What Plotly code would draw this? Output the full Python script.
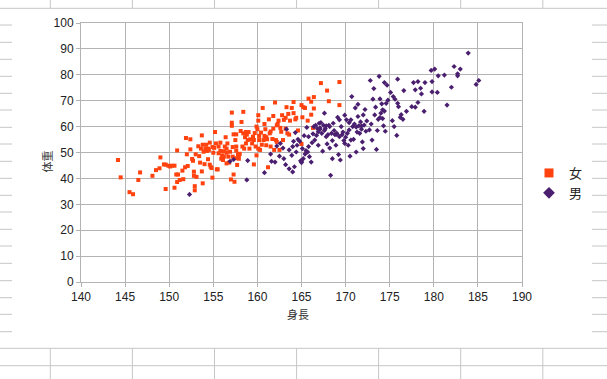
import plotly.graph_objects as go

# ---------------- data ----------------
female_height = [
    144.2, 144.5, 145.5, 145.9, 146.5, 146.7, 148.1, 148.5, 149.0, 148.9,
    149.4, 149.6, 149.9, 150.1, 150.3, 150.6, 149.6, 150.6, 150.9, 150.8,
    151.0, 150.9, 151.2, 151.5, 151.6, 151.8, 151.9, 152.0, 152.4, 152.4,
    152.7, 152.8, 152.8, 153.0, 152.9, 152.9, 153.1, 153.3, 153.4, 153.5,
    153.6, 153.7, 153.7, 153.8, 153.8, 153.9, 154.0, 154.1, 154.3, 154.4,
    154.4, 154.5, 154.6, 154.6, 154.7, 154.8, 154.9, 154.9, 155.0, 155.2,
    155.3, 155.4, 155.5, 155.6, 155.6, 155.8, 155.8, 155.9, 156.0, 156.1,
    156.2, 156.3, 156.4, 156.5, 156.5, 156.5, 156.6, 156.7, 156.8, 156.9,
    157.0, 157.1, 157.1, 157.1, 157.2, 157.2, 157.3, 157.3, 157.4, 157.5,
    157.6, 157.6, 157.6, 157.7, 157.8, 157.9, 157.9, 158.1, 158.2, 158.3,
    158.4, 158.4, 158.5, 158.6, 158.7, 158.7, 158.8, 158.9, 159.0, 159.2,
    159.4, 159.5, 159.6, 159.6, 159.7, 159.8, 159.9, 159.9, 160.0, 160.1,
    160.1, 160.1, 160.2, 160.2, 160.3, 160.4, 160.5, 160.6, 160.7, 160.8,
    160.8, 160.9, 161.0, 161.1, 161.2, 161.3, 161.4, 161.5, 161.5, 161.7,
    161.8, 161.8, 161.9, 162.0, 162.1, 162.2, 162.2, 162.3, 162.4, 162.5,
    162.6, 162.8, 162.9, 163.0, 163.2, 163.2, 163.3, 163.4, 163.5, 163.6,
    163.7, 163.9, 164.1, 164.1, 164.3, 164.4, 164.6, 165.0, 165.0, 165.1,
    165.2, 165.4, 165.7, 165.8, 166.1, 166.1, 166.3, 166.4, 166.4, 167.2,
    167.9, 168.1, 169.3, 169.3, 152.6, 152.1, 155.1, 156.2, 158.0, 161.0,
    154.2, 157.5, 159.1, 160.9, 162.7,
]
female_weight = [
    47.1, 40.4, 34.7, 33.9, 39.4, 42.3, 41.0, 43.2, 48.1, 43.9,
    45.4, 45.3, 44.9, 44.6, 44.9, 44.9, 35.9, 36.4, 50.8, 41.5,
    41.5, 38.6, 39.4, 43.0, 39.7, 44.3, 55.6, 49.3, 55.1, 51.2,
    46.8, 42.6, 41.0, 49.3, 37.0, 35.4, 40.6, 52.4, 48.6, 46.1,
    51.5, 42.7, 56.6, 53.0, 38.1, 50.3, 45.5, 51.5, 50.6, 51.5,
    47.4, 51.0, 53.8, 45.3, 44.5, 44.0, 40.3, 52.1, 49.9, 57.9,
    53.5, 43.5, 43.5, 52.3, 49.7, 50.6, 53.8, 47.6, 48.9, 47.1,
    48.4, 52.3, 55.9, 51.5, 45.8, 49.9, 53.5, 48.4, 46.1, 50.3,
    39.6, 65.4, 61.5, 60.3, 48.4, 52.1, 41.5, 57.0, 38.7, 54.8,
    50.7, 57.0, 52.3, 45.2, 49.3, 47.6, 48.9, 58.3, 61.8, 52.3,
    65.7, 57.4, 51.5, 55.9, 57.9, 53.5, 56.9, 54.8, 57.9, 55.1,
    53.5, 56.1, 45.4, 54.8, 57.5, 52.3, 60.0, 48.9, 59.0, 51.5,
    64.4, 62.3, 56.4, 54.8, 51.0, 57.7, 53.0, 67.2, 54.8, 61.0,
    56.4, 59.0, 55.9, 55.1, 44.3, 62.8, 57.4, 52.3, 58.1, 55.2,
    59.2, 64.1, 51.0, 69.3, 54.8, 60.5, 54.1, 61.0, 62.3, 51.0,
    59.5, 64.4, 54.8, 62.6, 59.2, 63.4, 67.5, 57.4, 64.9, 56.9,
    62.3, 67.2, 65.2, 69.5, 62.8, 63.4, 58.5, 53.3, 68.3, 63.6,
    67.5, 67.2, 62.3, 70.8, 64.6, 69.6, 59.5, 71.4, 67.0, 76.8,
    73.9, 69.8, 77.2, 68.3, 47.5, 44.8, 51.8, 50.5, 49.5, 52.8,
    53.0, 47.8, 51.5, 55.5, 58.0,
]

male_height = [
    152.3, 158.8, 160.8, 161.5, 161.6, 162.0, 162.2, 162.5, 162.6, 162.9,
    163.0, 163.2, 163.3, 163.6, 163.6, 163.9, 164.0, 164.0, 164.1, 164.2,
    164.3, 164.4, 164.5, 164.6, 164.8, 164.9, 165.0, 165.0, 165.1, 165.2,
    165.4, 165.5, 165.6, 165.7, 165.8, 165.8, 165.9, 166.1, 166.2, 166.3,
    166.4, 166.5, 166.6, 166.7, 166.8, 166.9, 167.0, 167.1, 167.1, 167.2,
    167.3, 167.4, 167.5, 167.6, 167.7, 167.8, 167.8, 167.9, 168.0, 168.1,
    168.2, 168.3, 168.4, 168.5, 168.5, 168.6, 168.7, 168.8, 168.9, 169.0,
    169.1, 169.2, 169.3, 169.3, 169.4, 169.5, 169.6, 169.7, 169.8, 169.9,
    169.9, 170.0, 170.1, 170.2, 170.3, 170.4, 170.5, 170.6, 170.6, 170.7,
    170.8, 170.9, 171.0, 171.1, 171.2, 171.3, 171.4, 171.4, 171.5, 171.6,
    171.7, 171.8, 171.9, 172.0, 172.0, 172.1, 172.2, 172.3, 172.4, 172.7,
    172.8, 172.9, 173.0, 173.1, 173.2, 173.3, 173.4, 173.5, 173.6, 173.7,
    173.8, 173.9, 174.0, 174.1, 174.2, 174.2, 174.3, 174.4, 174.5, 174.6,
    174.7, 174.8, 175.1, 175.3, 175.4, 175.5, 175.6, 175.8, 175.9, 175.9,
    176.0, 176.2, 176.3, 176.5, 176.6, 176.9, 177.5, 177.7, 177.9, 177.9,
    178.2, 178.2, 178.5, 178.6, 178.9, 179.0, 179.7, 179.8, 179.8, 180.1,
    180.4, 180.5, 181.2, 181.5, 182.0, 182.3, 182.7, 182.7, 183.0, 183.9,
    184.8, 185.1, 156.9, 157.3, 158.9, 165.3, 166.9, 168.2, 170.4, 171.8,
    173.9, 169.0, 167.6, 171.2, 174.4,
]
male_weight = [
    33.8, 39.4, 42.2, 49.4, 46.6, 46.3, 52.5, 48.6, 53.5, 51.7,
    47.6, 45.3, 59.0, 43.7, 51.0, 48.9, 52.3, 42.5, 54.3, 44.5,
    57.7, 50.2, 52.8, 55.1, 54.3, 46.8, 46.1, 46.6, 51.5, 47.6,
    49.4, 50.7, 59.7, 50.2, 56.1, 52.3, 48.4, 46.3, 53.8, 57.2,
    60.0, 54.8, 60.5, 56.6, 59.2, 52.8, 61.3, 59.0, 59.5, 61.5,
    57.4, 50.5, 60.5, 65.2, 59.2, 56.1, 60.3, 53.3, 56.9, 60.5,
    51.7, 41.2, 57.4, 47.6, 54.6, 61.3, 58.5, 56.9, 52.8, 57.4,
    63.6, 49.2, 62.6, 56.1, 47.1, 60.0, 56.9, 57.9, 54.6, 64.4,
    53.5, 55.9, 62.6, 57.4, 52.8, 58.7, 48.6, 54.8, 62.6, 71.6,
    60.0, 55.1, 61.0, 67.2, 50.2, 57.9, 63.9, 68.6, 60.3, 57.4,
    61.8, 59.0, 54.1, 64.5, 51.5, 60.6, 66.6, 58.2, 62.2, 58.7,
    77.8, 61.0, 54.8, 70.6, 74.7, 64.5, 67.5, 51.2, 58.5, 62.8,
    79.4, 70.7, 65.2, 68.8, 63.1, 66.5, 60.3, 77.0, 58.2, 69.0,
    76.0, 70.2, 73.2, 62.3, 71.6, 60.0, 70.6, 56.6, 69.0, 78.3,
    67.7, 63.6, 64.6, 62.8, 73.9, 65.9, 67.7, 77.0, 67.5, 74.2,
    77.4, 69.3, 74.8, 72.6, 65.9, 77.0, 81.7, 77.4, 73.4, 82.2,
    73.2, 79.6, 79.9, 68.3, 75.2, 83.2, 80.4, 79.6, 82.2, 88.4,
    76.3, 77.8, 46.6, 47.3, 46.9, 56.5, 58.0, 60.0, 61.5, 60.2,
    63.5, 57.0, 58.5, 59.8, 66.0,
]

series_names = ["女", "男"]
x_title = "身長"
y_title = "体重"
x_ticks = [140, 145, 150, 155, 160, 165, 170, 175, 180, 185, 190]
y_ticks = [0, 10, 20, 30, 40, 50, 60, 70, 80, 90, 100]

# ---------------- styling ----------------
ORANGE = "#ff420e"
PURPLE = "#4b1f6f"
GRID = "#b3b3b3"
SHEET = "#c6c6c6"
FONT = "Liberation Sans, Noto Sans CJK JP, sans-serif"

W, H = 607, 379
L, R, T, B = 81, 522, 23, 282  # plot area in pixels


def px(xp):
    return (xp - L) / (R - L)


def py(yp):
    return (B - yp) / (B - T)


fig = go.Figure()
fig.add_trace(go.Scatter(
    x=female_height, y=female_weight, mode="markers", name=series_names[0],
    marker=dict(symbol="square", size=4, color=ORANGE), showlegend=False))
fig.add_trace(go.Scatter(
    x=male_height, y=male_weight, mode="markers", name=series_names[1],
    marker=dict(symbol="diamond", size=4, color=PURPLE), showlegend=False))
# legend entries
fig.add_trace(go.Scatter(
    x=[None], y=[None], mode="markers", name=series_names[0],
    marker=dict(symbol="square", size=9, color=ORANGE)))
fig.add_trace(go.Scatter(
    x=[None], y=[None], mode="markers", name=series_names[1],
    marker=dict(symbol="diamond", size=9, color=PURPLE)))

# spreadsheet cell lines around the embedded chart
shapes = []
row_lines = [25.0, 42.3, 59.3, 76.3, 93.3, 110.0, 127.3, 144.0, 161.3, 178.3,
             195.3, 212.0, 229.3, 246.0, 263.3, 280.7, 297.7, 314.3, 331.7]
col_lines = [50.3, 132.4, 214.5, 296.6, 378.6, 460.7, 542.8]
line_style = dict(color=SHEET, width=1)
for yv in row_lines:
    shapes.append(dict(type="line", xref="paper", yref="paper", x0=px(0), x1=px(12),
                       y0=py(yv), y1=py(yv), line=line_style, layer="below"))
    shapes.append(dict(type="line", xref="paper", yref="paper", x0=px(592), x1=px(607),
                       y0=py(yv), y1=py(yv), line=line_style, layer="below"))
for yv in [8.3, 348.3, 365.7]:
    shapes.append(dict(type="line", xref="paper", yref="paper", x0=px(0), x1=px(607),
                       y0=py(yv), y1=py(yv), line=line_style, layer="below"))
for xv in col_lines:
    shapes.append(dict(type="line", xref="paper", yref="paper", x0=px(xv), x1=px(xv),
                       y0=py(0), y1=py(8.3), line=line_style, layer="below"))
    shapes.append(dict(type="line", xref="paper", yref="paper", x0=px(xv), x1=px(xv),
                       y0=py(348.3), y1=py(379), line=line_style, layer="below"))

fig.update_layout(
    width=W, height=H,
    margin=dict(l=L, r=W - R, t=T, b=H - B, pad=0, autoexpand=False),
    paper_bgcolor="white", plot_bgcolor="white",
    font=dict(family=FONT, size=12, color="#222222"),
    shapes=shapes,
    legend=dict(xref="container", yref="container", x=529 / W, y=1 - 158 / H,
                xanchor="left", yanchor="top",
                font=dict(size=13, color="#222222"), itemwidth=30,
                tracegroupgap=0, bgcolor="rgba(0,0,0,0)"),
    annotations=[
        dict(text=x_title, xref="paper", yref="paper", x=px(298), y=py(323),
             showarrow=False, font=dict(size=11, color="#333333")),
        dict(text=y_title, xref="paper", yref="paper", x=px(38), y=py(162),
             showarrow=False, textangle=-90, font=dict(size=11, color="#333333")),
    ],
)
fig.update_xaxes(range=[140, 190], tickvals=x_ticks, showgrid=True, gridcolor=GRID,
                 gridwidth=1, zeroline=False, showline=True, linecolor=GRID, linewidth=1,
                 mirror=True, ticks="outside", ticklen=4, tickcolor=GRID,
                 tickfont=dict(size=12, color="#222222"))
fig.update_yaxes(range=[0, 100], tickvals=y_ticks, showgrid=True, gridcolor=GRID,
                 gridwidth=1, zeroline=False, showline=True, linecolor=GRID, linewidth=1,
                 mirror=True, ticks="outside", ticklen=4, tickcolor=GRID,
                 tickfont=dict(size=12, color="#222222"))

# remove the browser's default page margin so the figure sits at (0, 0)
fig.write_html("out.html", config={"displayModeBar": False},
               post_script="document.body.style.margin='0';")
